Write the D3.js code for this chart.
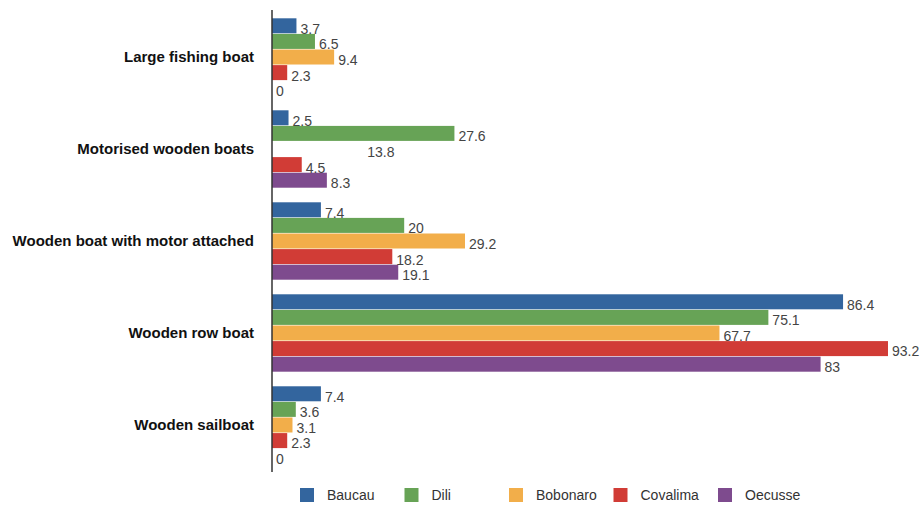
<!DOCTYPE html>
<html><head><meta charset="utf-8">
<script src="https://cdn.jsdelivr.net/npm/d3@7"></script>
<style>body{margin:0;background:#fff;font-family:"Liberation Sans",Arial,sans-serif;}</style>
</head><body><svg id="c" width="921" height="505"></svg>
<script>
const categories = ["Large fishing boat","Motorised wooden boats","Wooden boat with motor attached","Wooden row boat","Wooden sailboat"];
const series = ["Baucau","Dili","Bobonaro","Covalima","Oecusse"];
const baucau   = [3.7, 2.5, 7.4, 86.4, 7.4];
const dili     = [6.5, 27.6, 20, 75.1, 3.6];
const bobonaro = [9.4, 13.8, 29.2, 67.7, 3.1];
const covalima = [2.3, 4.5, 18.2, 93.2, 2.3];
const oecusse  = [0, 8.3, 19.1, 83, 0];
const valueLabels = {"Baucau":baucau,"Dili":dili,"Bobonaro":bobonaro,"Covalima":covalima,"Oecusse":oecusse};
const colors = ["#33659e","#67a356","#f2ae4a","#d13c36","#7e4b8e"];
// the Bobonaro bar in "Motorised wooden boats" appears white in the reference
const hiddenBars = [["Motorised wooden boats","Bobonaro"]];

const svg = d3.select("#c");
const x0 = 272;
const x = d3.scaleLinear().domain([0, 93.2]).range([x0, 888]);
const y = d3.scaleBand().domain(categories).range([10, 472]).paddingInner(0.152).paddingOuter(0.087);
const ys = d3.scaleBand().domain(series).range([0, y.bandwidth()]);
const color = d3.scaleOrdinal().domain(series).range(colors);

const data = [];
categories.forEach((c,i)=>series.forEach(s=>data.push({c, s, v: valueLabels[s][i]})));

const g = svg.append("g");
g.selectAll("rect").data(data).join("rect")
  .attr("x", x(0))
  .attr("y", d => y(d.c) + ys(d.s) + 0.3)
  .attr("width", d => x(d.v) - x(0))
  .attr("height", ys.bandwidth() - 0.6)
  .attr("fill", d => hiddenBars.some(h=>h[0]===d.c&&h[1]===d.s) ? "#ffffff" : color(d.s));

g.selectAll("text.v").data(data).join("text").attr("class","v")
  .attr("x", d => x(d.v) + 4)
  .attr("y", d => y(d.c) + ys(d.s) + ys.bandwidth()/2 + 3)
  .attr("dy", "0.35em")
  .attr("font-size", 14)
  .attr("fill", "#444")
  .text(d => d.v);

// axis line
const yAxis = d3.axisLeft(y).tickSize(0).tickPadding(18);
const ag = svg.append("g").attr("transform", `translate(${x0},0)`).call(yAxis);
ag.select(".domain").attr("stroke", "#333").attr("stroke-width", 1.5).attr("d", "M0,10V472");
ag.selectAll(".tick text").attr("font-size", 15).attr("font-weight", "bold")
  .attr("fill", "#111").attr("font-family", '"Liberation Sans",Arial,sans-serif');

// legend
const lx = d3.scalePoint().domain(series).range([300, 718]);
const lg = svg.append("g").selectAll("g").data(series).join("g")
  .attr("transform", d => `translate(${lx(d)},488)`);
lg.append("rect").attr("width", 14).attr("height", 14).attr("fill", d => color(d));
lg.append("text").attr("x", 27).attr("y", 7).attr("dy", "0.35em")
  .attr("font-size", 14).attr("fill", "#333").text(d => d);
</script></body></html>
